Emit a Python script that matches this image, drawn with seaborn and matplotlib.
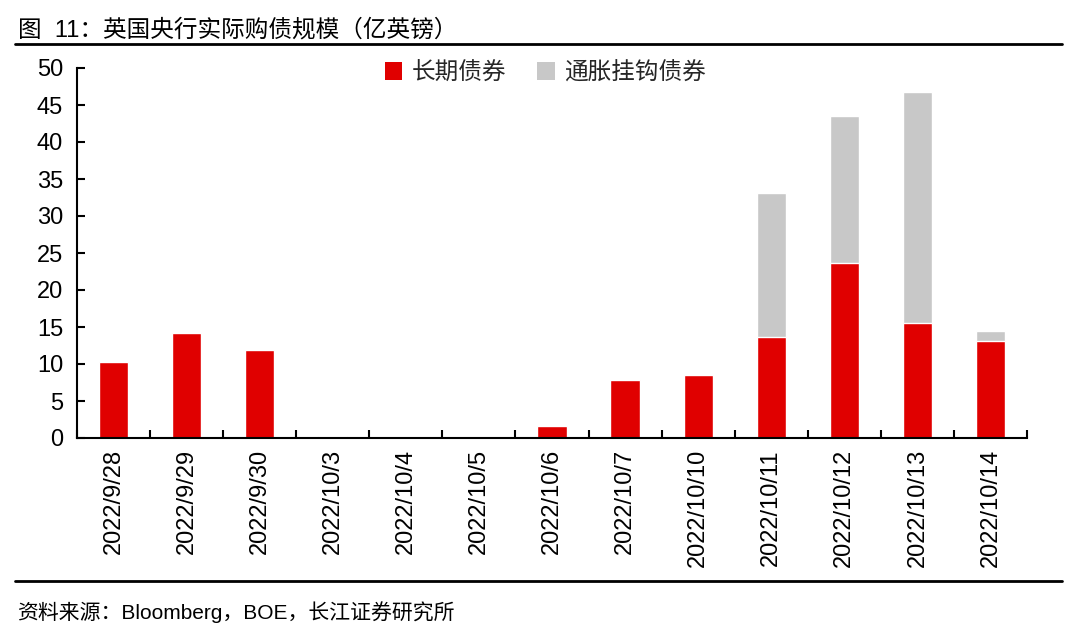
import matplotlib
matplotlib.use("Agg")
import matplotlib.pyplot as plt
import seaborn as sns
import pandas as pd
from matplotlib.patches import Patch
from matplotlib.lines import Line2D

dates = ["2022/9/28", "2022/9/29", "2022/9/30", "2022/10/3", "2022/10/4", "2022/10/5",
         "2022/10/6", "2022/10/7", "2022/10/10", "2022/10/11", "2022/10/12", "2022/10/13", "2022/10/14"]
long_bonds = [10.3, 14.2, 11.9, 0.3, 0, 0, 1.6, 7.8, 8.5, 13.6, 23.7, 15.5, 13.1]
linker_bonds = [0, 0, 0, 0, 0, 0, 0, 0, 0, 19.5, 19.8, 31.3, 1.4]
series_names = ["长期债券", "通胀挂钩债券"]

RED = "#E00000"
GRAY = "#C8C8C8"

sns.set_theme(style="white")
plt.rcParams['font.family'] = ['Liberation Sans', 'Noto Sans CJK SC', 'DejaVu Sans']

df = pd.DataFrame({"date": dates, "long": long_bonds, "linker": linker_bonds})
df["total"] = df["long"] + df["linker"]

fig = plt.figure(figsize=(10.8, 6.39), dpi=100)
ax = fig.add_axes([77/1080, 1-438/639, 950/1080, 370/639])

sns.barplot(data=df, x="date", y="total", color=GRAY, saturation=1, width=0.4, ax=ax)
sns.barplot(data=df, x="date", y="long", color=RED, saturation=1, width=0.4, ax=ax)

ax.set_xlim(-0.5, len(dates) - 0.5)
ax.set_ylim(0, 50)
ax.set_yticks(range(0, 51, 5))
ax.set_xlabel("")
ax.set_ylabel("")
ax.set_xticks(range(len(dates)))
ax.set_xticklabels(dates, rotation=90, fontsize=17)
ax.set_xticks([i - 0.5 for i in range(len(dates) + 1)], minor=True)
ax.tick_params(axis="x", which="major", length=0, pad=8, colors="black")
ax.tick_params(axis="x", which="minor", length=6, width=1.5, direction="in", color="black", bottom=True)
ax.tick_params(axis="y", which="major", length=6, width=1.5, direction="in", left=True, labelsize=17, pad=10, colors="black")
for s in ["top", "right"]:
    ax.spines[s].set_visible(False)
for s in ["left", "bottom"]:
    ax.spines[s].set_color("black")
    ax.spines[s].set_linewidth(1.5)

handles = [Patch(facecolor=RED, edgecolor="none"), Patch(facecolor=GRAY, edgecolor="none")]
ax.legend(handles, series_names, loc="center", bbox_to_anchor=(0.493, 0.986), ncol=2,
          frameon=False, fontsize=17, handlelength=0.75, handleheight=0.75,
          handletextpad=0.4, columnspacing=1.3)

fig.text(18/1080, 1-30/639, "图  11：英国央行实际购债规模（亿英镑）", fontsize=17, va="center", ha="left",
         color="black")
fig.add_artist(Line2D([15/1080, 1062/1080], [1-44/639, 1-44/639], color="black", linewidth=2))
fig.add_artist(Line2D([15/1080, 1062/1080], [1-581/639, 1-581/639], color="black", linewidth=2))
fig.text(17/1080, 1-612/639, "资料来源：Bloomberg，BOE，长江证券研究所", fontsize=15, va="center", ha="left",
         color="black")

fig.savefig("out.png", dpi=100)
